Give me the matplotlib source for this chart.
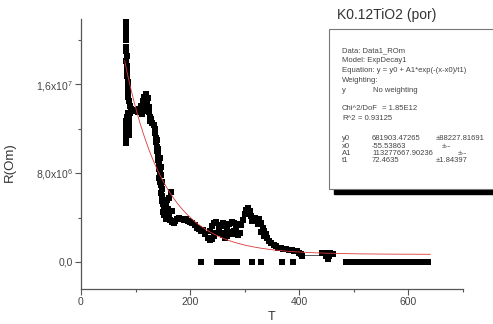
import numpy as np
import matplotlib
matplotlib.use("Agg")
import matplotlib.pyplot as plt
from matplotlib.ticker import MultipleLocator, FixedLocator, FixedFormatter
from matplotlib.patches import Rectangle

plt.rcParams['font.family'] = ['Liberation Sans', 'DejaVu Sans']
plt.rcParams['mathtext.fontset'] = 'custom'
plt.rcParams['mathtext.rm'] = 'Liberation Sans'

meas = [
    # upper branch
    (82, 21.6), (82, 21.2), (82, 20.8), (83, 20.4), (83, 20.0), (82, 19.4), (83, 19.0),
    (84, 18.6), (83, 18.1), (84, 17.7), (84, 17.2), (85, 16.8), (86, 16.2), (86, 15.8),
    (87, 15.3), (87, 14.9), (88, 14.5), (89, 14.1),
    # lower branch
    (82, 10.7), (82, 11.1), (82, 11.5), (83, 11.9), (83, 12.3), (83, 12.7), (84, 13.1),
    (86, 13.4), (88, 11.4), (88, 11.9), (88, 12.4), (88, 12.9), (89, 13.4),
    (92, 13.8), (96, 13.7), (100, 13.6), (104, 13.5), (107, 13.8), (110, 14.1),
    (113, 14.5), (116, 14.9), (119, 15.1), (122, 14.8), (121, 14.3), (118, 14.0),
    (115, 13.6), (112, 13.3), (124, 14.0), (125, 13.5), (126, 13.1), (127, 12.7),
    (130, 12.5), (133, 12.3), (128, 12.9),
    # drop
    (135, 12.0), (136, 11.6), (137, 11.2), (138, 10.8), (139, 10.4), (140, 10.0),
    (141, 9.6), (142, 9.2), (143, 8.8), (143, 8.4), (144, 8.0), (143, 7.6), (144, 7.2),
    (140, 11.0), (142, 10.2), (144, 9.4), (146, 8.6), (147, 7.8), (148, 7.2),
    (146, 6.9), (148, 6.6), (147, 6.2), (149, 5.9), (148, 5.5), (150, 5.2), (152, 4.9),
    (151, 4.5), (153, 4.2), (155, 3.9), (157, 4.4), (156, 5.1), (158, 5.6), (160, 4.8),
    (162, 4.2), (166, 4.6), (162, 5.8), (165, 6.3), (164, 3.8), (167, 3.6), (170, 3.5),
    (173, 3.7), (176, 3.9), (180, 4.0), (184, 3.9), (188, 3.8), (192, 3.9), (196, 3.7),
    (200, 3.6), (204, 3.5), (208, 3.3), (212, 3.1), (216, 3.0), (220, 2.8),
    # 220..290 cluster
    (224, 2.9), (228, 2.5), (232, 2.2), (236, 2.0), (240, 2.1), (244, 2.3), (248, 2.6),
    (252, 2.9), (256, 3.2), (260, 3.5), (264, 3.3), (268, 3.0), (272, 2.7), (276, 2.5),
    (280, 2.8), (284, 3.1), (288, 3.4), (236, 2.8), (240, 3.2), (244, 3.5), (248, 3.6),
    (252, 3.3), (256, 2.6), (260, 2.4), (264, 2.2), (268, 2.3), (272, 3.4), (276, 3.6),
    (280, 3.5), (284, 2.6), (288, 2.4), (292, 2.6),
    # bump near 305 and decay
    (294, 3.3), (297, 3.8), (300, 4.3), (303, 4.7), (306, 4.9), (309, 4.6), (311, 4.1),
    (313, 3.7), (316, 3.9), (319, 4.0), (322, 3.7), (325, 3.4), (327, 3.9), (330, 3.5),
    (333, 3.1), (336, 2.8), (339, 2.5), (330, 2.7), (335, 2.3), (341, 2.2), (345, 1.9),
    (349, 1.7), (353, 1.5), (357, 1.4), (361, 1.3), (366, 1.25), (371, 1.2), (376, 1.15),
    (381, 1.1), (386, 1.05), (391, 1.0), (396, 0.95), (400, 0.85), (403, 0.7), (405, 0.55),
    # tail near 450
    (442, 0.8), (447, 0.8), (452, 0.8), (457, 0.8), (461, 0.7), (449, 0.5), (454, 0.5),
    (452, 0.25),
]
t_meas = [p[0] for p in meas]
r_meas = [p[1] * 1e6 for p in meas]

# thin connector between 405 and 442
t_link = [405, 442]
r_link = [0.65e6, 0.65e6]

# points sitting at zero
t_zero = [219, 250, 257, 264, 271, 278, 285, 314, 329, 369, 388, 485,
          496, 503, 510, 517, 524, 531, 538, 545, 552, 559, 566, 573, 580, 587,
          594, 601, 608, 615, 622, 629, 636]
r_zero = [0] * len(t_zero)

# ExpDecay1 fit parameters
y0 = 681903.47265
x0 = -55.53863
A1 = 113277667.90236
t1 = 72.4635
t_fit = np.linspace(80, 640, 300)
r_fit = y0 + A1 * np.exp(-(t_fit - x0) / t1)

fit_lines = [
    ("Data: Data1_ROm", 50.7),
    ("Model: ExpDecay1", 60.5),
    ("Equation: y = y0 + A1*exp(-(x-x0)/t1)", 70.5),
    ("Weighting:", 80.3),
    ("y", 90),
    ("Chi^2/DoF", 109),
    ("R^2", 118.5),
    ("y0", 138.5),
    ("x0", 146),
    ("A1", 153.5),
    ("t1", 161),
]
fit_extra = [
    ("No weighting", 373, 90),
    ("= 1.85E12", 382, 109),
    ("= 0.93125", 358, 118.5),
    ("681903.47265", 372, 138.5),
    ("\u00b188227.81691", 436, 138.5),
    ("-55.53863", 372, 146),
    ("\u00b1--", 442, 146),
    ("113277667.90236", 372, 153.5),
    ("\u00b1--", 458, 153.5),
    ("72.4635", 372, 161),
    ("\u00b11.84397", 436, 161),
]

W, H = 493, 324
fig = plt.figure(figsize=(W / 100, H / 100), dpi=100)
ax = fig.add_axes([81 / W, 1 - 289 / H, 382 / W, 270 / H])

ax.plot(t_link, r_link, '-', color='#555555', lw=0.7)
ax.plot(t_meas, r_meas, 's', color='black', ms=4.0, mew=0)
ax.plot(t_zero, r_zero, 's', color='black', ms=4.0, mew=0)
ax.plot(t_fit, r_fit, '-', color='#d83a3a', lw=0.6)

ax.set_xlim(0, 700)
ax.set_ylim(-2.44e6, 21.9e6)
for s in ['top', 'right']:
    ax.spines[s].set_visible(False)
for s in ['left', 'bottom']:
    ax.spines[s].set_color('#555555')
    ax.spines[s].set_linewidth(0.9)

ax.xaxis.set_major_locator(MultipleLocator(200))
ax.xaxis.set_minor_locator(MultipleLocator(100))
ax.yaxis.set_major_locator(FixedLocator([0, 8e6, 16e6]))
ax.yaxis.set_major_formatter(FixedFormatter(['0,0', '8,0x10$^6$', '1,6x10$^7$']))
ax.yaxis.set_minor_locator(FixedLocator([4e6, 12e6, 20e6]))
ax.tick_params(which='major', direction='out', length=4, width=0.8, color='#555555',
               labelsize=7.5, labelcolor='#444444', pad=2)
ax.tick_params(which='minor', direction='out', length=2.5, width=0.8, color='#555555')

ax.set_xlabel('T', fontsize=9, color='#333333', labelpad=3)
ax.set_ylabel('R(Om)', fontsize=9.5, color='#333333')
ax.yaxis.set_label_coords(-0.17, 0.47)

fig.text(387 / W, 1 - 15 / H, 'K0.12TiO2 (por)', ha='center', va='center',
         fontsize=10, color='#333333')

# fit results box with shadow
fig.patches.append(Rectangle((334 / W, 1 - 194 / H), 200 / W, 8 / H,
                             transform=fig.transFigure, color='black', zorder=2))
fig.patches.append(Rectangle((329 / W, 1 - 189 / H), 200 / W, 160 / H,
                             transform=fig.transFigure, facecolor='white',
                             edgecolor='#777777', lw=0.8, zorder=3))
for txt, yy in fit_lines:
    fig.text(342 / W, 1 - yy / H, txt, fontsize=5.5, color='#444444',
             va='center', ha='left', zorder=4)
for txt, xx, yy in fit_extra:
    fig.text(xx / W, 1 - yy / H, txt, fontsize=5.5, color='#444444',
             va='center', ha='left', zorder=4)

fig.savefig('out.png', dpi=100)
